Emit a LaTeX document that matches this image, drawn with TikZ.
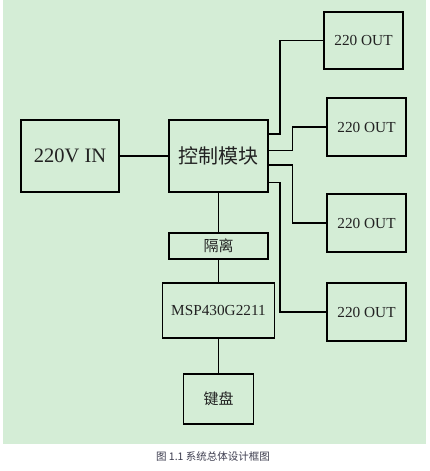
\documentclass[tikz,border=0pt]{standalone}
\usepackage{fontspec}
\setmainfont{Liberation Serif}
\newfontfamily\cjk{Noto Sans CJK SC}
\usepackage{tikz}
\definecolor{bggreen}{RGB}{212,237,214}
\definecolor{inkgray}{RGB}{34,34,34}
\definecolor{capgray}{RGB}{60,60,78}
\tikzset{
    blockbox/.style={draw=black, line width=1.5pt, fill=bggreen, text=inkgray, inner sep=0pt},
    wire/.style={line width=1.4pt, black}
}

\begin{document}
\begin{tikzpicture}[x=1pt, y=-1pt]
    \useasboundingbox (0,0) rectangle (429,471);
    \fill[bggreen] (3,0) rectangle (426,444);
    \node[blockbox, minimum width=98pt, minimum height=72pt, font=\fontsize{20.5}{24}\selectfont] (in) at (70,156) {220V IN};
    \node[blockbox, minimum width=99pt, minimum height=72pt, font=\cjk\fontsize{20}{24}\selectfont] (ctrl) at (218.5,156) {控制模块};
    \node[blockbox, minimum width=79pt, minimum height=57pt, font=\fontsize{15.3}{18}\selectfont] (out1) at (363.5,40.5) {220 OUT};
    \node[blockbox, minimum width=79pt, minimum height=58pt, font=\fontsize{15.3}{18}\selectfont] (out2) at (366.5,127) {220 OUT};
    \node[blockbox, minimum width=79pt, minimum height=58pt, font=\fontsize{15.3}{18}\selectfont] (out3) at (366.5,223) {220 OUT};
    \node[blockbox, minimum width=79pt, minimum height=58pt, font=\fontsize{15.3}{18}\selectfont] (out4) at (366.5,312) {220 OUT};
    \node[blockbox, minimum width=99pt, minimum height=26pt, font=\cjk\fontsize{15}{18}\selectfont] (iso) at (218.5,246) {隔离};
    \node[blockbox, minimum width=112pt, minimum height=55pt, font=\fontsize{15.3}{18}\selectfont] (msp) at (218.5,310.5) {MSP430G2211};
    \node[blockbox, minimum width=70pt, minimum height=50pt, font=\cjk\fontsize{15}{18}\selectfont] (kbd) at (218.5,399) {键盘};
    \draw[wire] (in) -- (ctrl);
    \draw[wire] ([yshift=22pt]ctrl.east) -- ++(11.3,0) |- (out1.west);
    \draw[wire] ([yshift=5.3pt]ctrl.east) -- ++(24,0) |- (out2.west);
    \draw[wire] ([yshift=-9pt]ctrl.east) -- ++(24,0) |- (out3.west);
    \draw[wire] ([yshift=-26.3pt]ctrl.east) -- ++(11.3,0) |- (out4.west);
    \draw[wire] (ctrl) -- (iso);
    \draw[wire] (iso) -- (msp);
    \draw[wire] (msp) -- (kbd);
    \node[text=capgray, font=\cjk\fontsize{10.5}{12}\selectfont] (caption) at (213,456) {图 1.1 系统总体设计框图};
\end{tikzpicture}
\end{document}
